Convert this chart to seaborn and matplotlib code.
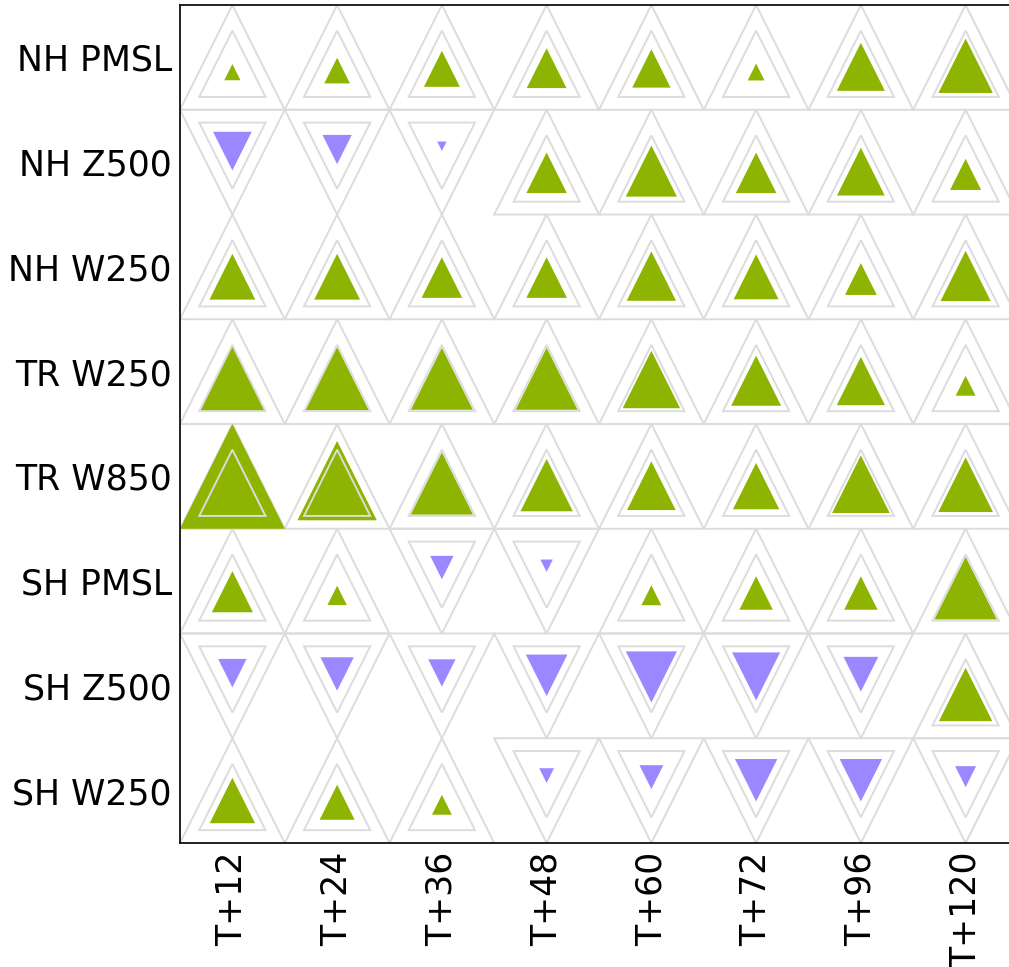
import numpy as np
import matplotlib
matplotlib.use("Agg")
import matplotlib.pyplot as plt
from matplotlib.patches import Polygon
import seaborn as sns

# Scorecard: relative change (%) per parameter and forecast lead time
parameters = ["NH PMSL", "NH Z500", "NH W250", "TR W250",
              "TR W850", "SH PMSL", "SH Z500", "SH W250"]
lead_times = ["T+12", "T+24", "T+36", "T+48", "T+60", "T+72", "T+96", "T+120"]

nh_pmsl = [0.12, 0.30, 0.59, 0.72, 0.67, 0.13, 1.05, 1.35]
nh_z500 = [-0.68, -0.39, -0.04, 0.75, 1.19, 0.75, 1.04, 0.44]
nh_w250 = [0.96, 0.96, 0.75, 0.75, 1.11, 0.92, 0.46, 1.15]
tr_w250 = [1.93, 1.83, 1.75, 1.75, 1.50, 1.14, 1.06, 0.18]
tr_w850 = [5.00, 2.87, 1.77, 1.25, 1.08, 0.98, 1.51, 1.36]
sh_pmsl = [0.77, 0.17, -0.25, -0.07, 0.18, 0.51, 0.51, 1.79]
sh_z500 = [-0.37, -0.51, -0.34, -0.79, -1.19, -1.05, -0.55, 1.30]
sh_w250 = [0.94, 0.56, 0.18, -0.10, -0.26, -0.82, -0.82, -0.20]

scores = [nh_pmsl, nh_z500, nh_w250, tr_w250, tr_w850, sh_pmsl, sh_z500, sh_w250]

FULL_SCALE = 5.0   # change that fills a whole cell
REF_SCALE = 2.0    # reference outline inside each cell

BETTER = "#8db400"
WORSE = "#9b87ff"
OUTLINE = "#dcdcdc"

sns.set_theme(style="white")
plt.rcParams["font.family"] = ["DejaVu Sans"]


def triangle(col, row, scale, up):
    """Triangle in cell (col,row), shrunk about its centroid by `scale` (area ~ value)."""
    if up:
        verts = np.array([[col, row - 0.5], [col - 0.5, row + 0.5], [col + 0.5, row + 0.5]])
    else:
        verts = np.array([[col, row + 0.5], [col - 0.5, row - 0.5], [col + 0.5, row - 0.5]])
    centre = verts.mean(axis=0)
    return centre + scale * (verts - centre)


fig = plt.figure(figsize=(10.09, 9.67), dpi=100)
ax = fig.add_axes([180 / 1009, 124 / 967, 838 / 1009, 838 / 967])
ax.set_xlim(-0.5, len(lead_times) - 0.5)
ax.set_ylim(len(parameters) - 0.5, -0.5)

ref = np.sqrt(REF_SCALE / FULL_SCALE)
for r, row_vals in enumerate(scores):
    for c, v in enumerate(row_vals):
        up = v >= 0
        s = min(1.0, np.sqrt(abs(v) / FULL_SCALE))
        ax.add_patch(Polygon(triangle(c, r, 1.0, up), closed=True, fill=False,
                             edgecolor=OUTLINE, linewidth=1.4, zorder=1))
        ax.add_patch(Polygon(triangle(c, r, s, up), closed=True,
                             facecolor=BETTER if up else WORSE,
                             edgecolor="none", zorder=2))
        ax.add_patch(Polygon(triangle(c, r, ref, up), closed=True, fill=False,
                             edgecolor=OUTLINE, linewidth=1.4, zorder=3))

ax.set_xticks(range(len(lead_times)))
ax.set_xticklabels(lead_times, rotation=90, fontsize=25, color="black")
ax.set_yticks(range(len(parameters)))
ax.set_yticklabels(parameters, fontsize=25, color="black")
ax.tick_params(length=0, pad=6)
ax.grid(False)
for sp in ax.spines.values():
    sp.set_color("#111111")
    sp.set_linewidth(1.3)

fig.savefig("out.png", dpi=100)
